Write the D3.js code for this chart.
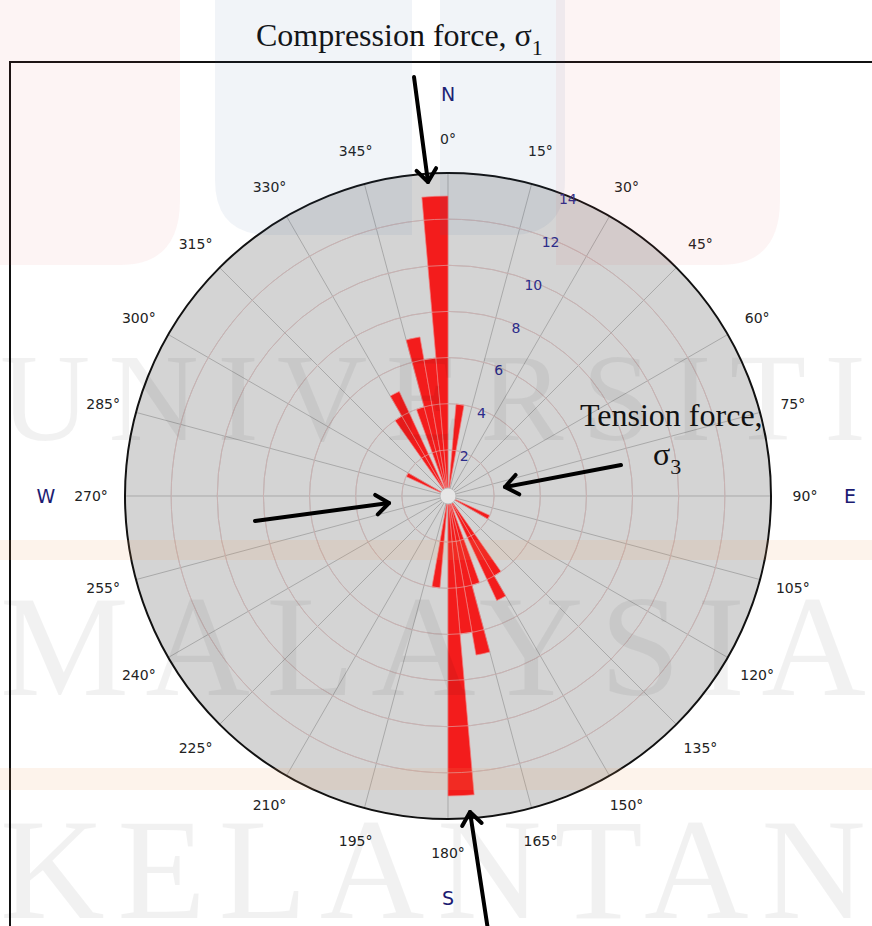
<!DOCTYPE html>
<html lang="en">
<head>
<meta charset="UTF-8">
<title>Rose diagram</title>
<script src="https://cdn.jsdelivr.net/npm/d3@7"></script>
<style>
  body { margin: 0; background: #fff; }
  svg { display: block; }
</style>
</head>
<body>
<svg width="872" height="926" id="mainsvg"></svg>
<script>
// 5 degree bins (start bearing) and number of readings in each
const binStart = [5, 115, 145, 150, 160, 165, 170, 175, 185, 295, 325, 330, 340, 345, 350, 355];
const counts   = [4, 2, 4, 5, 4, 7, 6, 13, 4, 2, 4, 5, 4, 7, 6, 13];
const binWidth = 5;
const ringValues = [2, 4, 6, 8, 10, 12, 14];
const angleTicks = d3.range(0, 360, 15);
const compassLabels = ["N", "E", "S", "W"];
const compassDeg = [0, 90, 180, 270];

const svg = d3.select("#mainsvg");
const cx = 448, cy = 496, R = 323;

const r = d3.scaleLinear().domain([0, 14]).range([0, R]);
const rad = d => d * Math.PI / 180;
const px = (deg, rr) => cx + rr * Math.sin(rad(deg));
const py = (deg, rr) => cy - rr * Math.cos(rad(deg));

// frame
svg.append("path")
  .attr("d", "M10,926 V62 H872")
  .attr("fill", "none")
  .attr("stroke", "#111")
  .attr("stroke-width", 2);

const g = svg.append("g").attr("transform", `translate(${cx},${cy})`);

// plot background
g.append("circle").attr("r", R).attr("fill", "#d4d4d4");

// grid under bars
const grid = g.append("g");
grid.selectAll("line").data(angleTicks).join("line")
  .attr("x1", d => 8 * Math.sin(rad(d)))
  .attr("y1", d => -8 * Math.cos(rad(d)))
  .attr("x2", d => R * Math.sin(rad(d)))
  .attr("y2", d => -R * Math.cos(rad(d)))
  .attr("stroke", "#a9a9a9")
  .attr("stroke-width", 1);
grid.selectAll("circle").data(ringValues.slice(0, -1)).join("circle")
  .attr("r", d => r(d))
  .attr("fill", "none")
  .attr("stroke", "#a9a9a9")
  .attr("stroke-width", 1);

// petals
const arc = d3.arc()
  .innerRadius(0)
  .outerRadius(d => r(d.count))
  .startAngle(d => rad(d.start))
  .endAngle(d => rad(d.start + binWidth));

const bins = binStart.map((s, i) => ({start: s, count: counts[i]}));
g.append("g").selectAll("path").data(bins).join("path")
  .attr("d", arc)
  .attr("fill", "#f41212")
  .attr("fill-opacity", 0.95)
  .attr("stroke", "#f08080")
  .attr("stroke-width", 0.7);

// grid rings showing through the bars
g.append("g").selectAll("circle").data(ringValues.slice(0, -1)).join("circle")
  .attr("r", d => r(d))
  .attr("fill", "none")
  .attr("stroke", "#e0b8b8")
  .attr("stroke-opacity", 0.6)
  .attr("stroke-width", 1);

// hub
g.append("circle").attr("r", 8).attr("fill", "#e6e6e6").attr("stroke", "#bbb");

// outer circle
g.append("circle").attr("r", R).attr("fill", "none").attr("stroke", "#111").attr("stroke-width", 2);

// radial tick labels
g.append("g").selectAll("text").data(ringValues).join("text")
  .attr("x", d => (r(d) - 3) * Math.sin(rad(22)))
  .attr("y", d => -(r(d) - 3) * Math.cos(rad(22)))
  .attr("text-anchor", "middle")
  .attr("dominant-baseline", "central")
  .attr("font-family", "DejaVu Sans, Verdana, sans-serif")
  .attr("font-size", 14)
  .attr("fill", "#2c2c8a")
  .text(d => d);

// angle labels
svg.append("g").selectAll("text").data(angleTicks).join("text")
  .attr("x", d => px(d, 357))
  .attr("y", d => py(d, 357))
  .attr("text-anchor", "middle")
  .attr("dominant-baseline", "central")
  .attr("font-family", "DejaVu Sans, Verdana, sans-serif")
  .attr("font-size", 14)
  .attr("fill", "#222")
  .text(d => d + "°");

// compass letters
svg.append("g").selectAll("text").data(compassLabels).join("text")
  .attr("x", (d, i) => px(compassDeg[i], 402))
  .attr("y", (d, i) => py(compassDeg[i], 402))
  .attr("text-anchor", "middle")
  .attr("dominant-baseline", "central")
  .attr("font-family", "DejaVu Sans, Verdana, sans-serif")
  .attr("font-size", 19)
  .attr("fill", "#1c1c72")
  .text(d => d);

// stress arrows
const arrows = [
  {from: [414, 77], to: [428, 182]},
  {from: [488, 930], to: [470, 812]},
  {from: [621, 465], to: [505, 487]},
  {from: [255, 521], to: [389, 503]}
];
const ann = svg.append("g").attr("stroke", "#000").attr("stroke-width", 4)
  .attr("stroke-linecap", "round").attr("stroke-linejoin", "round").attr("fill", "none");
arrows.forEach(a => {
  const [x1, y1] = a.from, [x2, y2] = a.to;
  const ang = Math.atan2(y2 - y1, x2 - x1);
  const L = 16, h = rad(38);
  ann.append("line").attr("x1", x1).attr("y1", y1).attr("x2", x2).attr("y2", y2);
  ann.append("path").attr("d",
    `M${x2 - L * Math.cos(ang - h)},${y2 - L * Math.sin(ang - h)} L${x2},${y2} L${x2 - L * Math.cos(ang + h)},${y2 - L * Math.sin(ang + h)}`);
});

// annotation text
const serif = "Liberation Serif, Times New Roman, serif";
const t1 = svg.append("text").attr("x", 256).attr("y", 46)
  .attr("font-family", serif).attr("font-size", 32).attr("fill", "#111");
t1.append("tspan").text("Compression force, σ");
t1.append("tspan").attr("dy", 9).attr("font-size", 22).text("1");

svg.append("text").attr("x", 580).attr("y", 426)
  .attr("font-family", serif).attr("font-size", 32).attr("fill", "#111")
  .text("Tension force,");
const t3 = svg.append("text").attr("x", 653).attr("y", 465)
  .attr("font-family", serif).attr("font-size", 32).attr("fill", "#111");
t3.append("tspan").text("σ");
t3.append("tspan").attr("dy", 9).attr("font-size", 22).text("3");

// faint watermark over the page
const wm = svg.append("g").attr("pointer-events", "none");
wm.append("path").attr("d", "M0,0 H180 V200 Q180,265 120,265 H0 Z").attr("fill", "rgba(225,60,60,0.06)");
wm.append("path").attr("d", "M215,0 H412 V235 H270 Q215,235 215,180 Z").attr("fill", "rgba(60,100,150,0.07)");
wm.append("path").attr("d", "M440,0 H565 V180 Q565,235 510,235 H440 Z").attr("fill", "rgba(60,100,150,0.07)");
wm.append("path").attr("d", "M556,0 H780 V200 Q780,265 720,265 H556 Z").attr("fill", "rgba(225,60,60,0.06)");
wm.append("rect").attr("x", 0).attr("y", 540).attr("width", 872).attr("height", 20).attr("fill", "rgba(235,160,90,0.12)");
wm.append("rect").attr("x", 0).attr("y", 768).attr("width", 872).attr("height", 22).attr("fill", "rgba(235,160,90,0.12)");
const wmWords = ["UNIVERSITI", "MALAYSIA", "KELANTAN"];
const wmBase = [440, 695, 918];
wm.selectAll("text").data(wmWords).join("text")
  .attr("x", 0)
  .attr("y", (d, i) => wmBase[i])
  .attr("textLength", 866)
  .attr("lengthAdjust", "spacing")
  .attr("font-family", serif)
  .attr("font-size", (d, i) => i === 0 ? 125 : 145)
  .attr("fill", "rgba(0,0,0,0.055)")
  .text(d => d);
</script>
</body>
</html>
